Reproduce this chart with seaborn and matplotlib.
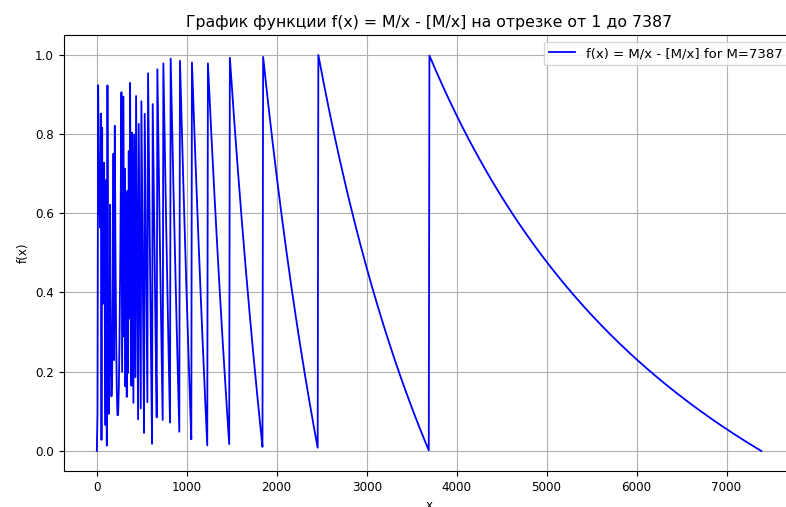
import matplotlib
matplotlib.use("Agg")
import matplotlib.pyplot as plt
import numpy as np
import pandas as pd
import seaborn as sns

# Parameters of the plotted function, taken from the title and legend
M = 7387
X_START = 1
X_END = 7387
N_POINTS = 1000

TITLE = "График функции f(x) = M/x - [M/x] на отрезке от 1 до 7387"
LINE_LABEL = f"f(x) = M/x - [M/x] for M={M}"

x_values = np.linspace(X_START, X_END, N_POINTS)
# fractional part of M/x, as defined in the title
y_values = M / x_values - np.floor(M / x_values)
data = pd.DataFrame({"x": x_values, "f(x)": y_values})

plt.rcParams["font.size"] = 8.6
fig = plt.figure(figsize=(7.86, 5.07), dpi=100)
ax = fig.add_axes([63.6 / 786, 36.2 / 507, 731 / 786, 435.6 / 507])

sns.lineplot(
    data=data,
    x="x",
    y="f(x)",
    color="blue",
    linewidth=1.3,
    label=LINE_LABEL,
    estimator=None,
    sort=False,
    ax=ax,
)
ax.set_title(TITLE, fontsize=11.3)
ax.set_xlabel("x")
ax.set_ylabel("f(x)")
ax.grid(True)
ax.legend(loc="upper right", fontsize=9.5)

fig.savefig("out.png", dpi=100)
plt.close(fig)
